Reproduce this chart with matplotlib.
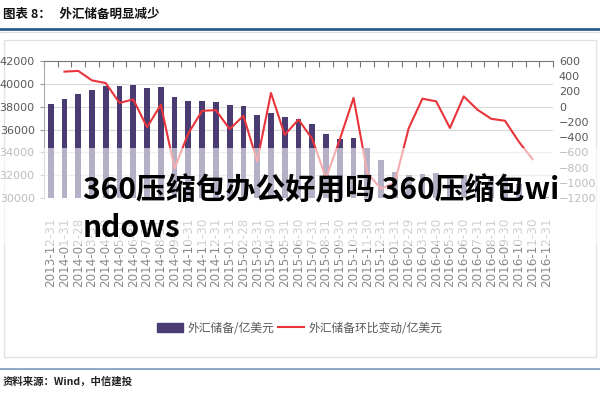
import numpy as np
import matplotlib
matplotlib.use("Agg")
from matplotlib import pyplot as plt
from matplotlib.patches import Rectangle, Patch
from matplotlib.lines import Line2D

dates = ["2013-12-31", "2014-01-31", "2014-02-28", "2014-03-31", "2014-04-30",
         "2014-05-31", "2014-06-30", "2014-07-31", "2014-08-31", "2014-09-30",
         "2014-10-31", "2014-11-30", "2014-12-31", "2015-01-31", "2015-02-28",
         "2015-03-31", "2015-04-30", "2015-05-31", "2015-06-30", "2015-07-31",
         "2015-08-31", "2015-09-30", "2015-10-31", "2015-11-30", "2015-12-31",
         "2016-01-31", "2016-02-29", "2016-03-31", "2016-04-30", "2016-05-31",
         "2016-06-30", "2016-07-31", "2016-08-31", "2016-09-30", "2016-10-31",
         "2016-11-30", "2016-12-31"]

reserves = [38210, 38670, 39140, 39480, 39790, 39840, 39930, 39660, 39690, 38880,
            38530, 38470, 38430, 38130, 38020, 37300, 37480, 37110, 36940, 36510,
            35570, 35140, 35260, 34380, 33300, 32310, 32020, 32130, 32200, 31920,
            32050, 32010, 31850, 31660, 31210, 30520, 30110]

change = [np.nan, 460, 470, 345, 310, 50, 95, -270, 25, -810,
          -350, -55, -45, -295, -120, -715, 180, -370, -170, -425,
          -940, -430, 115, -870, -1080, -995, -285, 105, 70, -280,
          135, -40, -160, -185, -460, -690, np.nan]

plt.rcParams['font.family'] = ['DejaVu Sans']
cjk = 'Noto Sans CJK SC'
grey = '#595959'

fig = plt.figure(figsize=(6, 4), dpi=100)

# header / footer decorations
fig.text(0.005, 0.965, "图表 8：   外汇储备明显减少", family=cjk, fontsize=9,
         fontweight='bold', va='center', ha='left', color='#111111')
fig.add_artist(Line2D([0, 1], [0.9275, 0.9275], color='#2f5d8a', lw=2))
fig.add_artist(Line2D([0, 1], [0.9195, 0.9195], color='#dddddd', lw=0.8))
fig.patches.append(Rectangle((0.006, 0.1075), 0.988, 0.7925, transform=fig.transFigure,
                             fill=False, edgecolor='#e2e2e2', lw=1, zorder=-1))
fig.add_artist(Line2D([0, 1], [0.0775, 0.0775], color='#7a9cc0', lw=1.2))
fig.text(0.005, 0.047, "资料来源：Wind，中信建投", family=cjk, fontsize=7.5,
         fontweight='bold', style='italic', va='center', ha='left', color='#222222')

ax = fig.add_axes([0.073, 0.505, 0.849, 0.3425])
ax.set_facecolor('none')
x = np.arange(len(dates))
ax.bar(x, np.array(reserves) - 30000, bottom=30000, width=0.42, color='#4a3b73', zorder=2)
ax.set_xlim(-0.5, len(dates) - 0.5)
ax.set_ylim(30000, 42000)
ax.set_yticks(np.arange(30000, 42001, 2000))
ax.yaxis.grid(True, color='#d9d9d9', lw=0.8, zorder=0)
ax.tick_params(axis='y', labelsize=8, labelcolor=grey, color='#999999', length=3)

ax.set_xticks(np.arange(len(dates) + 1) - 0.5)
ax.set_xticks(x, minor=True)
ax.set_xticklabels(dates, minor=True)
ax.tick_params(axis='x', which='major', top=True, bottom=False, labeltop=False,
               labelbottom=False, direction='in', length=4, color='#777777')
ax.tick_params(axis='x', which='minor', length=0, labelsize=8.6, labelcolor='#8a8a8a',
               rotation=90, pad=14)
for s in ['right', 'bottom']:
    ax.spines[s].set_visible(False)
ax.spines['top'].set_color('#777777')
ax.spines['left'].set_color('#aaaaaa')

ax2 = ax.twinx()
ax2.plot(x, change, color='#e8343a', lw=1.5, zorder=3)
ax2.set_ylim(-1200, 600)
ax2.set_yticks(np.arange(-1200, 601, 200))
ax2.tick_params(axis='y', labelsize=8, labelcolor=grey, length=0, pad=4)
for s in ax2.spines.values():
    s.set_visible(False)

handles = [Patch(color='#4a3b73'), Line2D([0], [0], color='#e8343a', lw=1.5)]
fig.legend(handles, ["外汇储备/亿美元", "外汇储备环比变动/亿美元"], loc='center',
           bbox_to_anchor=(0.5, 0.18), ncol=2, frameon=False, handlelength=2.2,
           handletextpad=0.4, columnspacing=0.3,
           prop={'family': cjk, 'size': 8.5}, labelcolor=grey)

# semi-transparent overlay band with caption
fig.patches.append(Rectangle((0, 1 - 245 / 400), 1, 97 / 400, transform=fig.transFigure,
                             facecolor='white', alpha=0.6, edgecolor='none', zorder=5))
fig.text(0.138, 1 - 190 / 400, "360压缩包办公好用吗 360压缩包wi", family=cjk, fontsize=21.5,
         fontweight='bold', va='center', ha='left', color='black', zorder=6)
fig.text(0.138, 1 - 228 / 400, "ndows", family=cjk, fontsize=21.5,
         fontweight='bold', va='center', ha='left', color='black', zorder=6)

fig.savefig('out.png', dpi=100)
